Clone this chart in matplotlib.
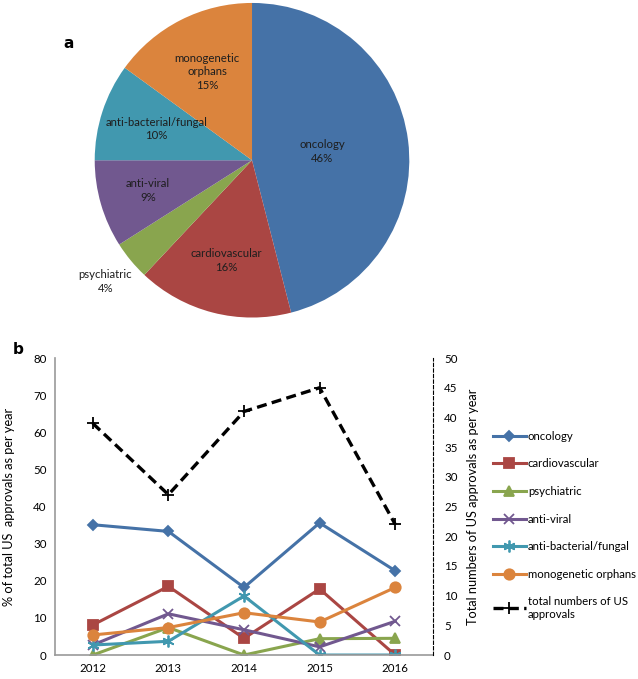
import numpy as np
import matplotlib
matplotlib.use("Agg")
import matplotlib.pyplot as plt

plt.rcParams['font.family'] = ['Lato', 'DejaVu Sans']

# panel a: share of approvals by therapeutic area
pie_labels = ["oncology", "cardiovascular", "psychiatric", "anti-viral",
              "anti-bacterial/fungal", "monogenetic\norphans"]
pie_values = [46, 16, 4, 9, 10, 15]
pie_colors = ["#4572A7", "#AA4643", "#89A54E", "#71588F", "#4198AF", "#DB843D"]
label_dist = [0.45, 0.66, 1.21, 0.69, 0.64, 0.63]

# panel b: % of approvals per year
years = ["2012", "2013", "2014", "2015", "2016"]
oncology = [35.1, 33.3, 18.2, 35.6, 22.7]
cardiovascular = [8.1, 18.5, 4.5, 17.8, 0]
psychiatric = [0, 7.4, 0, 4.4, 4.5]
anti_viral = [2.7, 11.1, 6.8, 2.2, 9.1]
anti_bacterial = [2.7, 3.7, 15.9, 0, 0]
monogenetic = [5.4, 7.4, 11.4, 8.9, 18.2]
total_approvals = [39, 27, 41, 45, 22]

fig = plt.figure(figsize=(6.38, 6.79), dpi=100)

# ---- pie ----
ax_pie = fig.add_axes([0.146, 0.530, 0.498, 0.468])
wedges, _ = ax_pie.pie(pie_values, colors=pie_colors, startangle=90,
                       counterclock=False, radius=1)
ax_pie.set_xlim(-1.01, 1.01)
ax_pie.set_ylim(-1.01, 1.01)
ax_pie.set_aspect('equal')
for w, lab, val, d in zip(wedges, pie_labels, pie_values, label_dist):
    ang = np.deg2rad((w.theta1 + w.theta2) / 2)
    ax_pie.text(d * np.cos(ang), d * np.sin(ang), f"{lab}\n{val}%",
                ha='center', va='center', fontsize=8.2, color="#1e1e1e",
                linespacing=1.3)
fig.text(0.100, 0.936, "a", fontsize=11, fontweight='bold',
         family='DejaVu Sans', ha='left', va='center')

# ---- line chart ----
ax = fig.add_axes([0.0862, 0.0353, 0.5925, 0.4374])
x = np.arange(len(years))
series = [
    ("oncology", oncology, "#4572A7", "D", 5.5),
    ("cardiovascular", cardiovascular, "#AA4643", "s", 7.5),
    ("psychiatric", psychiatric, "#89A54E", "^", 7.5),
    ("anti-viral", anti_viral, "#71588F", "x", 7.5),
    ("anti-bacterial/fungal", anti_bacterial, "#4198AF", (6, 2, 0), 8.5),
    ("monogenetic orphans", monogenetic, "#DB843D", "o", 7.5),
]
handles = []
for name, vals, col, mk, ms in series:
    h, = ax.plot(x, vals, color=col, marker=mk, markersize=ms, lw=2.2,
                 markeredgewidth=1.3, label=name)
    handles.append(h)

ax.set_xlim(-0.5, len(years) - 0.5)
ax.set_ylim(0, 80)
ax.set_yticks(np.arange(0, 81, 10))
ax.set_xticks(x)
ax.set_xticklabels(years)
ax.tick_params(length=0, labelsize=8.3, pad=6)
ax.set_ylabel("% of total US  approvals as per year", fontsize=9.2, labelpad=13)
for s in ["top", "right"]:
    ax.spines[s].set_visible(False)
ax.spines["left"].set_color("#999999")
ax.spines["bottom"].set_color("#999999")
ax.spines["left"].set_linewidth(1.2)
ax.spines["bottom"].set_linewidth(1.2)

ax2 = ax.twinx()
h_tot, = ax2.plot(x, total_approvals, color="black", ls=(0, (3, 1.6)), lw=2.4,
                  marker="+", markersize=8, markeredgewidth=1.3,
                  label="total numbers of US\napprovals")
handles.append(h_tot)
ax2.set_ylim(0, 50)
ax2.set_yticks(np.arange(0, 51, 5))
ax2.tick_params(length=0, labelsize=8.3, pad=8)
ax2.set_ylabel("Total numbers of US approvals as per year", fontsize=9.2,
               labelpad=7)
for s in ["top", "left", "bottom"]:
    ax2.spines[s].set_visible(False)
ax2.spines["right"].set_linestyle((0, (3, 2)))
ax2.spines["right"].set_linewidth(0.8)
ax2.spines["right"].set_color("black")

fig.text(0.020, 0.486, "b", fontsize=11, fontweight='bold',
         family='DejaVu Sans', ha='left', va='center')

fig.legend(handles=handles, loc='upper left', bbox_to_anchor=(0.765, 0.372),
           frameon=False, fontsize=8.2, handlelength=2.9, handletextpad=0.2,
           labelspacing=1.45, borderaxespad=0)

fig.savefig("out.png", dpi=100)
